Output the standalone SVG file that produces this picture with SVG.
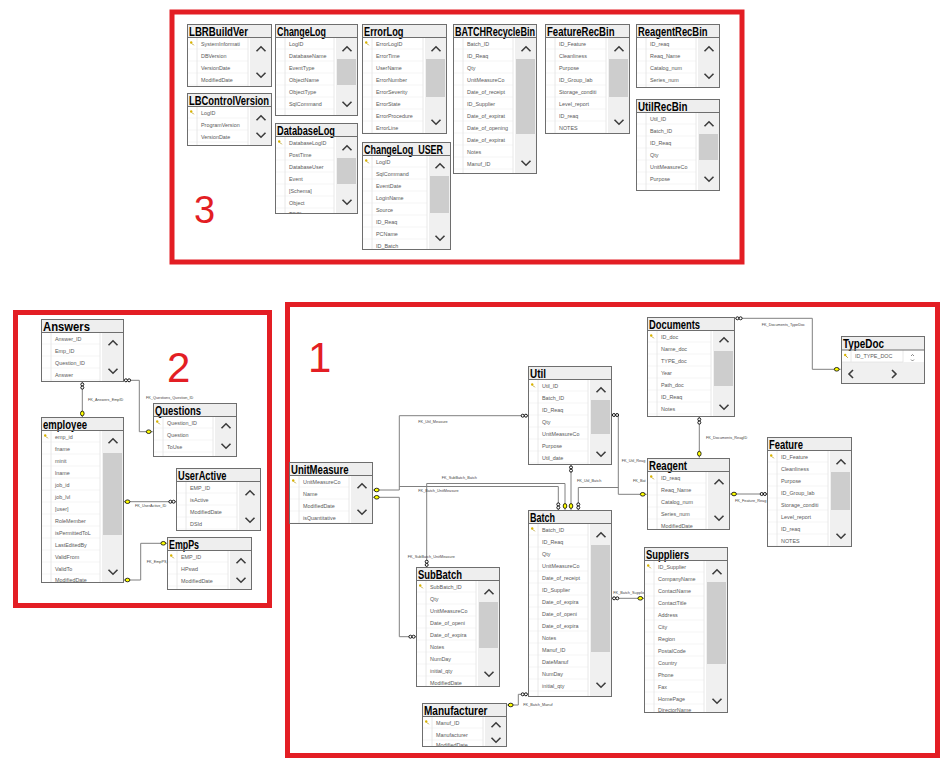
<svg xmlns="http://www.w3.org/2000/svg" width="947" height="759" viewBox="0 0 947 759">
<style>
.fr{fill:none;stroke:#e31e24;stroke-width:5}
.num{font-family:"Liberation Sans",Arial,sans-serif;fill:#e31e24}
.bg{fill:#fff}
.hd{fill:#eeeeee}
.bd{fill:none;stroke:#6e6e6e;stroke-width:1}
.tt{font-family:"Liberation Sans",Arial,sans-serif;font-weight:bold;font-size:12px;fill:#000}
.rt{font-family:"Liberation Sans",Arial,sans-serif;font-size:5.4px;fill:#5a5a5a}
.gl{fill:none;stroke:#e2e2e2;stroke-width:0.8}
.sb{fill:#f0f0f0}
.th{fill:#cdcdcd}
.ar{fill:none;stroke:#3c3c3c;stroke-width:1.6}
.cn{fill:none;stroke:#808080;stroke-width:1}
.lb{font-family:"Liberation Sans",Arial,sans-serif;font-size:3.8px;fill:#444}
.inf{fill:#fff;stroke:#000;stroke-width:0.9}
.key{fill:#ffff00;stroke:#000;stroke-width:0.8}
</style>
<defs>
<pattern id="rg" patternUnits="userSpaceOnUse" x="0" y="13.5" width="300" height="12"><rect y="11.6" width="300" height="0.8" fill="#e2e2e2"/></pattern>
<g id="cu"><path class="ar" d="M-4.5,2.2L0,-2.2L4.5,2.2"/></g>
<g id="cd"><path class="ar" d="M-4.5,-2.2L0,2.2L4.5,-2.2"/></g>
<g id="rk"><circle cx="-0.8" cy="-1" r="1.2" fill="#d9b300"/><path d="M0,0L1.8,1.8" stroke="#a88a00" stroke-width="0.8"/></g>
<g id="ih"><circle class="inf" cx="-1.6" r="1.5"/><circle class="inf" cx="1.6" r="1.5"/></g>
<g id="iv"><circle class="inf" cy="-1.6" r="1.5"/><circle class="inf" cy="1.6" r="1.5"/></g>
<g id="kh"><ellipse class="key" rx="2.4" ry="1.8"/></g>
<g id="kv"><ellipse class="key" rx="1.8" ry="2.4"/></g>
</defs>
<rect width="947" height="759" fill="#fff"/>

<g id="frames">
<rect class="fr" x="172" y="12" width="570" height="250"/>
<rect class="fr" x="15.5" y="312.5" width="254" height="293"/>
<rect class="fr" x="287.5" y="304.5" width="650" height="451"/>
<text class="num" x="194" y="223" font-size="38">3</text>
<text class="num" x="167" y="382" font-size="42">2</text>
<text class="num" x="308" y="372" font-size="42">1</text>
</g>

<g id="connectors">
<path class="cn" d="M82.3,382V417"/>
<path class="cn" d="M123.5,380.3H139.3V431.7H152.7"/>
<path class="cn" d="M123.5,501.7H176"/>
<path class="cn" d="M123.5,580H140.7V543.3H167.3"/>
<path class="cn" d="M735,318.3H812.3V369.3H840.7"/>
<path class="cn" d="M699.3,416.7V457.7"/>
<path class="cn" d="M730,494H767.3"/>
<path class="cn" d="M611.7,415H618.3V494.3H646.7"/>
<path class="cn" d="M578.3,510V487.5H618.3"/>
<path class="cn" d="M571,465V510"/>
<path class="cn" d="M528.3,415.7H399.3V490H372.7"/>
<path class="cn" d="M558.3,510V486.5H399.3"/>
<path class="cn" d="M426.7,567.3V483.5H565V510"/>
<path class="cn" d="M372.7,497.3H399.3V636.7H416"/>
<path class="cn" d="M611.7,598.3H644.3"/>
<path class="cn" d="M528.3,694.3H518.3V705H506.7"/>
<use href="#iv" x="82.3" y="386"/><use href="#kv" x="82.3" y="413.5"/>
<use href="#ih" x="127.5" y="380.3"/><use href="#kh" x="148.7" y="431.7"/>
<use href="#kh" x="127.5" y="501.7"/><use href="#ih" x="172" y="501.7"/>
<use href="#kh" x="127.5" y="580"/><use href="#kh" x="163.3" y="543.3"/>
<use href="#ih" x="739" y="318.3"/><use href="#kh" x="836.7" y="369.3"/>
<use href="#iv" x="699.3" y="421"/><use href="#kv" x="699.3" y="453.7"/>
<use href="#kh" x="734" y="494"/><use href="#ih" x="763.3" y="494"/>
<use href="#ih" x="615.5" y="415"/><use href="#kh" x="642.7" y="494.3"/>
<use href="#iv" x="578.3" y="506"/>
<use href="#iv" x="571" y="469"/><use href="#kv" x="571" y="506"/>
<use href="#ih" x="524.3" y="415.7"/><use href="#kh" x="376.7" y="490"/>
<use href="#iv" x="558.3" y="506"/>
<use href="#iv" x="426.7" y="563.3"/><use href="#kv" x="565" y="506"/>
<use href="#kh" x="376.7" y="497.3"/><use href="#ih" x="412" y="636.7"/>
<use href="#ih" x="615.7" y="598.3"/><use href="#kh" x="640.3" y="598.3"/>
<use href="#ih" x="524.3" y="694.3"/><use href="#kh" x="510.7" y="705"/>
<text class="lb" x="88" y="401">FK_Answers_EmpID</text>
<text class="lb" x="146" y="399">FK_Questions_Question_ID</text>
<text class="lb" x="135" y="507">FK_UserActive_ID</text>
<text class="lb" x="146.7" y="563">FK_EmpPS_I</text>
<text class="lb" x="761.7" y="325.5">FK_Documents_TypeDoc</text>
<text class="lb" x="706" y="438.5">FK_Documents_ReagID</text>
<text class="lb" x="735" y="501.5">FK_Feature_Reag</text>
<text class="lb" x="621.7" y="462">FK_Util_Reag</text>
<text class="lb" x="633" y="481.5">FK_Bat</text>
<text class="lb" x="577" y="482">FK_Util_Batch</text>
<text class="lb" x="418.3" y="422.5">FK_Util_Measure</text>
<text class="lb" x="418.3" y="492">FK_Batch_UnitMeasure</text>
<text class="lb" x="441.7" y="479">FK_SubBatch_Batch</text>
<text class="lb" x="407.7" y="558">FK_SubBatch_UnitMeasure</text>
<text class="lb" x="613.3" y="594">FK_Batch_Supplier</text>
<text class="lb" x="523.3" y="706">FK_Batch_Manuf</text>
</g>

<g id="LBRBuildVer"><svg x="187" y="24" width="85" height="63">
<rect class="bg" width="85" height="63"/><rect class="hd" width="85" height="13.5"/>
<rect fill="url(#rg)" x="1" y="13.5" width="60" height="49.5"/><path class="gl" d="M10,13.5V63M61,13.5V63"/>
<rect class="sb" x="63" y="13.5" width="22" height="49.5"/>
<use href="#cu" x="74" y="25"/><use href="#cd" x="74" y="51"/><use href="#rk" x="5" y="19.5"/>
<text class="tt" x="2" y="11.8" textLength="59" lengthAdjust="spacingAndGlyphs">LBRBuildVer</text>
<text class="rt"><tspan x="14" y="21.5">SystemInformati</tspan><tspan x="14" dy="12">DBVersion</tspan><tspan x="14" dy="12">VersionDate</tspan><tspan x="14" dy="12">ModifiedDate</tspan></text>
<rect class="bd" x="0.5" y="0.5" width="84" height="62"/><path class="bd" d="M0,13.5H85"/>
</svg></g>

<g id="LBControlVersion"><svg x="187" y="93" width="85" height="53">
<rect class="bg" width="85" height="53"/><rect class="hd" width="85" height="13.5"/>
<rect fill="url(#rg)" x="1" y="13.5" width="60" height="39.5"/><path class="gl" d="M10,13.5V53M61,13.5V53"/>
<rect class="sb" x="63" y="13.5" width="22" height="39.5"/>
<use href="#cu" x="74" y="25"/><use href="#cd" x="74" y="42"/><use href="#rk" x="5" y="19.5"/>
<text class="tt" x="2" y="11.8" textLength="80" lengthAdjust="spacingAndGlyphs">LBControlVersion</text>
<text class="rt"><tspan x="14" y="21.5">LogID</tspan><tspan x="14" dy="12">ProgramVersion</tspan><tspan x="14" dy="12">VersionDate</tspan></text>
<rect class="bd" x="0.5" y="0.5" width="84" height="52"/><path class="bd" d="M0,13.5H85"/>
</svg></g>

<g id="ChangeLog"><svg x="275" y="24" width="83" height="92">
<rect class="bg" width="83" height="92"/><rect class="hd" width="83" height="13.5"/>
<rect fill="url(#rg)" x="1" y="13.5" width="58" height="78.5"/><path class="gl" d="M10,13.5V92M59,13.5V92"/>
<rect class="sb" x="61" y="13.5" width="22" height="78.5"/><rect class="th" x="62" y="35" width="19" height="26"/>
<use href="#cu" x="72" y="25"/><use href="#cd" x="72" y="80"/>
<text class="tt" x="2" y="11.8" textLength="49" lengthAdjust="spacingAndGlyphs">ChangeLog</text>
<text class="rt"><tspan x="14" y="21.5">LogID</tspan><tspan x="14" dy="12">DatabaseName</tspan><tspan x="14" dy="12">EventType</tspan><tspan x="14" dy="12">ObjectName</tspan><tspan x="14" dy="12">ObjectType</tspan><tspan x="14" dy="12">SqlCommand</tspan></text>
<rect class="bd" x="0.5" y="0.5" width="82" height="91"/><path class="bd" d="M0,13.5H83"/>
</svg></g>

<g id="DatabaseLog"><svg x="275" y="123" width="83" height="91">
<rect class="bg" width="83" height="91"/><rect class="hd" width="83" height="13.5"/>
<rect fill="url(#rg)" x="1" y="13.5" width="58" height="77.5"/><path class="gl" d="M10,13.5V91M59,13.5V91"/>
<rect class="sb" x="61" y="13.5" width="22" height="77.5"/><rect class="th" x="62" y="35" width="19" height="26"/>
<use href="#cu" x="72" y="25"/><use href="#cd" x="72" y="79"/><use href="#rk" x="5" y="19.5"/>
<text class="tt" x="2" y="11.8" textLength="58" lengthAdjust="spacingAndGlyphs">DatabaseLog</text>
<text class="rt"><tspan x="14" y="21.5">DatabaseLogID</tspan><tspan x="14" dy="12">PostTime</tspan><tspan x="14" dy="12">DatabaseUser</tspan><tspan x="14" dy="12">Event</tspan><tspan x="14" dy="12">[Schema]</tspan><tspan x="14" dy="12">Object</tspan><tspan x="14" dy="11">TSQL</tspan></text>
<rect class="bd" x="0.5" y="0.5" width="82" height="90"/><path class="bd" d="M0,13.5H83"/>
</svg></g>

<g id="ErrorLog"><svg x="362" y="24" width="85" height="110">
<rect class="bg" width="85" height="110"/><rect class="hd" width="85" height="13.5"/>
<rect fill="url(#rg)" x="1" y="13.5" width="60" height="96.5"/><path class="gl" d="M10,13.5V110M61,13.5V110"/>
<rect class="sb" x="63" y="13.5" width="22" height="96.5"/><rect class="th" x="64" y="35" width="19" height="38"/>
<use href="#cu" x="74" y="25"/><use href="#cd" x="74" y="98"/><use href="#rk" x="5" y="19.5"/>
<text class="tt" x="2" y="11.8" textLength="39.5" lengthAdjust="spacingAndGlyphs">ErrorLog</text>
<text class="rt"><tspan x="14" y="21.5">ErrorLogID</tspan><tspan x="14" dy="12">ErrorTime</tspan><tspan x="14" dy="12">UserName</tspan><tspan x="14" dy="12">ErrorNumber</tspan><tspan x="14" dy="12">ErrorSeverity</tspan><tspan x="14" dy="12">ErrorState</tspan><tspan x="14" dy="12">ErrorProcedure</tspan><tspan x="14" dy="12">ErrorLine</tspan></text>
<rect class="bd" x="0.5" y="0.5" width="84" height="109"/><path class="bd" d="M0,13.5H85"/>
</svg></g>

<g id="ChangeLog_USER"><svg x="362" y="142" width="89" height="108">
<rect class="bg" width="89" height="108"/><rect class="hd" width="89" height="13.5"/>
<rect fill="url(#rg)" x="1" y="13.5" width="64" height="94.5"/><path class="gl" d="M10,13.5V108M65,13.5V108"/>
<rect class="sb" x="67" y="13.5" width="22" height="94.5"/><rect class="th" x="68" y="34" width="19" height="37"/>
<use href="#cu" x="78" y="24"/><use href="#cd" x="78" y="96"/><use href="#rk" x="5" y="19.5"/>
<text class="tt" x="2" y="11.8" textLength="84" lengthAdjust="spacingAndGlyphs">ChangeLog_USER_</text>
<text class="rt"><tspan x="14" y="21.5">LogID</tspan><tspan x="14" dy="12">SqlCommand</tspan><tspan x="14" dy="12">EventDate</tspan><tspan x="14" dy="12">LoginName</tspan><tspan x="14" dy="12">Source</tspan><tspan x="14" dy="12">ID_Reaq</tspan><tspan x="14" dy="12">PCName</tspan><tspan x="14" dy="12">ID_Batch</tspan></text>
<rect class="bd" x="0.5" y="0.5" width="88" height="107"/><path class="bd" d="M0,13.5H89"/>
</svg></g>

<g id="BATCHRecycleBin"><svg x="453" y="24" width="84" height="150">
<rect class="bg" width="84" height="150"/><rect class="hd" width="84" height="13.5"/>
<rect fill="url(#rg)" x="1" y="13.5" width="59" height="136.5"/><path class="gl" d="M10,13.5V150M60,13.5V150"/>
<rect class="sb" x="62" y="13.5" width="22" height="136.5"/><rect class="th" x="63" y="35" width="19" height="75"/>
<use href="#cu" x="73" y="25"/><use href="#cd" x="73" y="139"/>
<text class="tt" x="2" y="11.8" textLength="80" lengthAdjust="spacingAndGlyphs">BATCHRecycleBin</text>
<text class="rt"><tspan x="14" y="21.5">Batch_ID</tspan><tspan x="14" dy="12">ID_Reaq</tspan><tspan x="14" dy="12">Qty</tspan><tspan x="14" dy="12">UnitMeasureCo</tspan><tspan x="14" dy="12">Date_of_receipt</tspan><tspan x="14" dy="12">ID_Supplier</tspan><tspan x="14" dy="12">Date_of_expirat</tspan><tspan x="14" dy="12">Date_of_opening</tspan><tspan x="14" dy="12">Date_of_expirat</tspan><tspan x="14" dy="12">Notes</tspan><tspan x="14" dy="12">Manuf_ID</tspan></text>
<rect class="bd" x="0.5" y="0.5" width="83" height="149"/><path class="bd" d="M0,13.5H84"/>
</svg></g>

<g id="FeatureRecBin"><svg x="545" y="24" width="85" height="110">
<rect class="bg" width="85" height="110"/><rect class="hd" width="85" height="13.5"/>
<rect fill="url(#rg)" x="1" y="13.5" width="60" height="96.5"/><path class="gl" d="M10,13.5V110M61,13.5V110"/>
<rect class="sb" x="63" y="13.5" width="22" height="96.5"/><rect class="th" x="64" y="35" width="19" height="38"/>
<use href="#cu" x="74" y="25"/><use href="#cd" x="74" y="98"/>
<text class="tt" x="2" y="11.8" textLength="67.5" lengthAdjust="spacingAndGlyphs">FeatureRecBin</text>
<text class="rt"><tspan x="14" y="21.5">ID_Feature</tspan><tspan x="14" dy="12">Cleanliness</tspan><tspan x="14" dy="12">Purpose</tspan><tspan x="14" dy="12">ID_Group_lab</tspan><tspan x="14" dy="12">Storage_conditi</tspan><tspan x="14" dy="12">Level_report</tspan><tspan x="14" dy="12">ID_reaq</tspan><tspan x="14" dy="12">NOTES</tspan></text>
<rect class="bd" x="0.5" y="0.5" width="84" height="109"/><path class="bd" d="M0,13.5H85"/>
</svg></g>

<g id="ReagentRecBin"><svg x="636" y="24" width="84" height="64">
<rect class="bg" width="84" height="64"/><rect class="hd" width="84" height="13.5"/>
<rect fill="url(#rg)" x="1" y="13.5" width="59" height="50.5"/><path class="gl" d="M10,13.5V64M60,13.5V64"/>
<rect class="sb" x="62" y="13.5" width="22" height="50.5"/>
<use href="#cu" x="73" y="25"/><use href="#cd" x="73" y="52"/>
<text class="tt" x="2" y="11.8" textLength="69.5" lengthAdjust="spacingAndGlyphs">ReagentRecBin</text>
<text class="rt"><tspan x="14" y="21.5">ID_reaq</tspan><tspan x="14" dy="12">Reaq_Name</tspan><tspan x="14" dy="12">Catalog_num</tspan><tspan x="14" dy="12">Series_num</tspan></text>
<rect class="bd" x="0.5" y="0.5" width="83" height="63"/><path class="bd" d="M0,13.5H84"/>
</svg></g>

<g id="UtilRecBin"><svg x="636" y="99" width="84" height="92">
<rect class="bg" width="84" height="92"/><rect class="hd" width="84" height="13.5"/>
<rect fill="url(#rg)" x="1" y="13.5" width="59" height="78.5"/><path class="gl" d="M10,13.5V92M60,13.5V92"/>
<rect class="sb" x="62" y="13.5" width="22" height="78.5"/><rect class="th" x="63" y="35" width="19" height="26"/>
<use href="#cu" x="73" y="25"/><use href="#cd" x="73" y="80"/>
<text class="tt" x="2" y="11.8" textLength="49.5" lengthAdjust="spacingAndGlyphs">UtilRecBin</text>
<text class="rt"><tspan x="14" y="21.5">Util_ID</tspan><tspan x="14" dy="12">Batch_ID</tspan><tspan x="14" dy="12">ID_Reaq</tspan><tspan x="14" dy="12">Qty</tspan><tspan x="14" dy="12">UnitMeasureCo</tspan><tspan x="14" dy="12">Purpose</tspan></text>
<rect class="bd" x="0.5" y="0.5" width="83" height="91"/><path class="bd" d="M0,13.5H84"/>
</svg></g>

<g id="Answers"><svg x="41" y="319" width="83" height="63">
<rect class="bg" width="83" height="63"/><rect class="hd" width="83" height="13.5"/>
<rect fill="url(#rg)" x="1" y="13.5" width="58" height="49.5"/><path class="gl" d="M10,13.5V63M59,13.5V63"/>
<rect class="sb" x="61" y="13.5" width="22" height="49.5"/>
<use href="#cu" x="72" y="24"/><use href="#cd" x="72" y="52"/>
<text class="tt" x="2" y="11.8" textLength="47" lengthAdjust="spacingAndGlyphs">Answers</text>
<text class="rt"><tspan x="14" y="21.5">Answer_ID</tspan><tspan x="14" dy="12">Emp_ID</tspan><tspan x="14" dy="12">Question_ID</tspan><tspan x="14" dy="12">Answer</tspan></text>
<rect class="bd" x="0.5" y="0.5" width="82" height="62"/><path class="bd" d="M0,13.5H83"/>
</svg></g>

<g id="employee"><svg x="41" y="417" width="83" height="166">
<rect class="bg" width="83" height="166"/><rect class="hd" width="83" height="13.5"/>
<rect fill="url(#rg)" x="1" y="13.5" width="58" height="152.5"/><path class="gl" d="M10,13.5V166M59,13.5V166"/>
<rect class="sb" x="61" y="13.5" width="22" height="152.5"/><rect class="th" x="62" y="36" width="19" height="82"/>
<use href="#cu" x="72" y="24"/><use href="#cd" x="72" y="155"/><use href="#rk" x="5" y="19.5"/>
<text class="tt" x="2" y="11.8" textLength="44" lengthAdjust="spacingAndGlyphs">employee</text>
<text class="rt"><tspan x="14" y="21.5">emp_id</tspan><tspan x="14" dy="12">fname</tspan><tspan x="14" dy="12">minit</tspan><tspan x="14" dy="12">lname</tspan><tspan x="14" dy="12">job_id</tspan><tspan x="14" dy="12">job_lvl</tspan><tspan x="14" dy="12">[user]</tspan><tspan x="14" dy="12">RoleMember</tspan><tspan x="14" dy="12">isPermittedToL</tspan><tspan x="14" dy="12">LastEditedBy</tspan><tspan x="14" dy="12">ValidFrom</tspan><tspan x="14" dy="12">ValidTo</tspan><tspan x="14" dy="11">ModifiedDate</tspan></text>
<rect class="bd" x="0.5" y="0.5" width="82" height="165"/><path class="bd" d="M0,13.5H83"/>
</svg></g>

<g id="Questions"><svg x="153" y="403" width="84" height="54">
<rect class="bg" width="84" height="54"/><rect class="hd" width="84" height="13.5"/>
<rect fill="url(#rg)" x="1" y="13.5" width="59" height="40.5"/><path class="gl" d="M10,13.5V54M60,13.5V54"/>
<rect class="sb" x="62" y="13.5" width="22" height="40.5"/>
<use href="#cu" x="73" y="23"/><use href="#cd" x="73" y="43"/><use href="#rk" x="5" y="19.5"/>
<text class="tt" x="2" y="11.8" textLength="46" lengthAdjust="spacingAndGlyphs">Questions</text>
<text class="rt"><tspan x="14" y="21.5">Question_ID</tspan><tspan x="14" dy="12">Question</tspan><tspan x="14" dy="12">ToUse</tspan></text>
<rect class="bd" x="0.5" y="0.5" width="83" height="53"/><path class="bd" d="M0,13.5H84"/>
</svg></g>

<g id="UserActive"><svg x="176" y="468" width="85" height="63">
<rect class="bg" width="85" height="63"/><rect class="hd" width="85" height="13.5"/>
<rect fill="url(#rg)" x="1" y="13.5" width="60" height="49.5"/><path class="gl" d="M10,13.5V63M61,13.5V63"/>
<rect class="sb" x="63" y="13.5" width="22" height="49.5"/>
<use href="#cu" x="74" y="25"/><use href="#cd" x="74" y="52"/>
<text class="tt" x="2" y="11.8" textLength="48.5" lengthAdjust="spacingAndGlyphs">UserActive</text>
<text class="rt"><tspan x="14" y="21.5">EMP_ID</tspan><tspan x="14" dy="12">isActive</tspan><tspan x="14" dy="12">ModifiedDate</tspan><tspan x="14" dy="12">DSId</tspan></text>
<rect class="bd" x="0.5" y="0.5" width="84" height="62"/><path class="bd" d="M0,13.5H85"/>
</svg></g>

<g id="EmpPs"><svg x="167" y="537" width="85" height="53">
<rect class="bg" width="85" height="53"/><rect class="hd" width="85" height="13.5"/>
<rect fill="url(#rg)" x="1" y="13.5" width="60" height="39.5"/><path class="gl" d="M10,13.5V53M61,13.5V53"/>
<rect class="sb" x="63" y="13.5" width="22" height="39.5"/>
<use href="#cu" x="74" y="24"/><use href="#cd" x="74" y="43"/><use href="#rk" x="5" y="19.5"/>
<text class="tt" x="2" y="11.8" textLength="30" lengthAdjust="spacingAndGlyphs">EmpPs</text>
<text class="rt"><tspan x="14" y="21.5">EMP_ID</tspan><tspan x="14" dy="12">HPswd</tspan><tspan x="14" dy="12">ModifiedDate</tspan></text>
<rect class="bd" x="0.5" y="0.5" width="84" height="52"/><path class="bd" d="M0,13.5H85"/>
</svg></g>

<g id="UnitMeasure"><svg x="289" y="462" width="84" height="62">
<rect class="bg" width="84" height="62"/><rect class="hd" width="84" height="13.5"/>
<rect fill="url(#rg)" x="1" y="13.5" width="59" height="48.5"/><path class="gl" d="M10,13.5V62M60,13.5V62"/>
<rect class="sb" x="62" y="13.5" width="22" height="48.5"/>
<use href="#cu" x="73" y="24"/><use href="#cd" x="73" y="50"/><use href="#rk" x="5" y="19.5"/>
<text class="tt" x="2" y="11.8" textLength="57.5" lengthAdjust="spacingAndGlyphs">UnitMeasure</text>
<text class="rt"><tspan x="14" y="21.5">UnitMeasureCo</tspan><tspan x="14" dy="12">Name</tspan><tspan x="14" dy="12">ModifiedDate</tspan><tspan x="14" dy="12">isQuantitative</tspan></text>
<rect class="bd" x="0.5" y="0.5" width="83" height="61"/><path class="bd" d="M0,13.5H84"/>
</svg></g>

<g id="Util"><svg x="528" y="366" width="84" height="99">
<rect class="bg" width="84" height="99"/><rect class="hd" width="84" height="13.5"/>
<rect fill="url(#rg)" x="1" y="13.5" width="59" height="85.5"/><path class="gl" d="M10,13.5V99M60,13.5V99"/>
<rect class="sb" x="62" y="13.5" width="22" height="85.5"/><rect class="th" x="63" y="34" width="19" height="34"/>
<use href="#cu" x="73" y="24"/><use href="#cd" x="73" y="88"/><use href="#rk" x="5" y="19.5"/>
<text class="tt" x="2" y="11.8" textLength="16" lengthAdjust="spacingAndGlyphs">Util</text>
<text class="rt"><tspan x="14" y="21.5">Util_ID</tspan><tspan x="14" dy="12">Batch_ID</tspan><tspan x="14" dy="12">ID_Reaq</tspan><tspan x="14" dy="12">Qty</tspan><tspan x="14" dy="12">UnitMeasureCo</tspan><tspan x="14" dy="12">Purpose</tspan><tspan x="14" dy="12">Util_date</tspan></text>
<rect class="bd" x="0.5" y="0.5" width="83" height="98"/><path class="bd" d="M0,13.5H84"/>
</svg></g>

<g id="Batch"><svg x="528" y="510" width="84" height="187">
<rect class="bg" width="84" height="187"/><rect class="hd" width="84" height="13.5"/>
<rect fill="url(#rg)" x="1" y="13.5" width="59" height="173.5"/><path class="gl" d="M10,13.5V187M60,13.5V187"/>
<rect class="sb" x="62" y="13.5" width="22" height="173.5"/><rect class="th" x="63" y="35" width="19" height="107"/>
<use href="#cu" x="73" y="25"/><use href="#cd" x="73" y="175"/><use href="#rk" x="5" y="19.5"/>
<text class="tt" x="2" y="11.8" textLength="25" lengthAdjust="spacingAndGlyphs">Batch</text>
<text class="rt"><tspan x="14" y="21.5">Batch_ID</tspan><tspan x="14" dy="12">ID_Reaq</tspan><tspan x="14" dy="12">Qty</tspan><tspan x="14" dy="12">UnitMeasureCo</tspan><tspan x="14" dy="12">Date_of_receipt</tspan><tspan x="14" dy="12">ID_Supplier</tspan><tspan x="14" dy="12">Date_of_expira</tspan><tspan x="14" dy="12">Date_of_openi</tspan><tspan x="14" dy="12">Date_of_expira</tspan><tspan x="14" dy="12">Notes</tspan><tspan x="14" dy="12">Manuf_ID</tspan><tspan x="14" dy="12">DateManuf</tspan><tspan x="14" dy="12">NumDay</tspan><tspan x="14" dy="12">initial_qty</tspan></text>
<rect class="bd" x="0.5" y="0.5" width="83" height="186"/><path class="bd" d="M0,13.5H84"/>
</svg></g>

<g id="SubBatch"><svg x="416" y="567" width="84" height="120">
<rect class="bg" width="84" height="120"/><rect class="hd" width="84" height="13.5"/>
<rect fill="url(#rg)" x="1" y="13.5" width="59" height="106.5"/><path class="gl" d="M10,13.5V120M60,13.5V120"/>
<rect class="sb" x="62" y="13.5" width="22" height="106.5"/><rect class="th" x="63" y="35" width="19" height="46"/>
<use href="#cu" x="73" y="25"/><use href="#cd" x="73" y="107"/><use href="#rk" x="5" y="19.5"/>
<text class="tt" x="2" y="11.8" textLength="44" lengthAdjust="spacingAndGlyphs">SubBatch</text>
<text class="rt"><tspan x="14" y="21.5">SubBatch_ID</tspan><tspan x="14" dy="12">Qty</tspan><tspan x="14" dy="12">UnitMeasureCo</tspan><tspan x="14" dy="12">Date_of_openi</tspan><tspan x="14" dy="12">Date_of_expira</tspan><tspan x="14" dy="12">Notes</tspan><tspan x="14" dy="12">NumDay</tspan><tspan x="14" dy="12">initial_qty</tspan><tspan x="14" dy="12">ModifiedDate</tspan></text>
<rect class="bd" x="0.5" y="0.5" width="83" height="119"/><path class="bd" d="M0,13.5H84"/>
</svg></g>

<g id="Manufacturer"><svg x="422" y="703" width="85" height="44">
<rect class="bg" width="85" height="44"/><rect class="hd" width="85" height="13.5"/>
<rect fill="url(#rg)" x="1" y="13.5" width="60" height="30.5"/><path class="gl" d="M10,13.5V44M61,13.5V44"/>
<rect class="sb" x="63" y="13.5" width="22" height="30.5"/>
<use href="#cu" x="74" y="22"/><use href="#cd" x="74" y="37"/><use href="#rk" x="5" y="19.5"/>
<text class="tt" x="2" y="11.8" textLength="63.5" lengthAdjust="spacingAndGlyphs">Manufacturer</text>
<text class="rt"><tspan x="14" y="21.5">Manuf_ID</tspan><tspan x="14" dy="12">Manufacturer</tspan><tspan x="14" dy="10">ModifiedDate</tspan></text>
<rect class="bd" x="0.5" y="0.5" width="84" height="43"/><path class="bd" d="M0,13.5H85"/>
</svg></g>

<g id="Suppliers"><svg x="644" y="547" width="84" height="166">
<rect class="bg" width="84" height="166"/><rect class="hd" width="84" height="13.5"/>
<rect fill="url(#rg)" x="1" y="13.5" width="59" height="152.5"/><path class="gl" d="M10,13.5V166M60,13.5V166"/>
<rect class="sb" x="62" y="13.5" width="22" height="152.5"/><rect class="th" x="63" y="35" width="19" height="82"/>
<use href="#cu" x="73" y="25"/><use href="#cd" x="73" y="154"/><use href="#rk" x="5" y="19.5"/>
<text class="tt" x="2" y="11.8" textLength="43" lengthAdjust="spacingAndGlyphs">Suppliers</text>
<text class="rt"><tspan x="14" y="21.5">ID_Supplier</tspan><tspan x="14" dy="12">CompanyName</tspan><tspan x="14" dy="12">ContactName</tspan><tspan x="14" dy="12">ContactTitle</tspan><tspan x="14" dy="12">Address</tspan><tspan x="14" dy="12">City</tspan><tspan x="14" dy="12">Region</tspan><tspan x="14" dy="12">PostalCode</tspan><tspan x="14" dy="12">Country</tspan><tspan x="14" dy="12">Phone</tspan><tspan x="14" dy="12">Fax</tspan><tspan x="14" dy="12">HomePage</tspan><tspan x="14" dy="11">DirectorName</tspan></text>
<rect class="bd" x="0.5" y="0.5" width="83" height="165"/><path class="bd" d="M0,13.5H84"/>
</svg></g>

<g id="Documents"><svg x="647" y="317" width="88" height="100">
<rect class="bg" width="88" height="100"/><rect class="hd" width="88" height="13.5"/>
<rect fill="url(#rg)" x="1" y="13.5" width="63" height="86.5"/><path class="gl" d="M10,13.5V100M64,13.5V100"/>
<rect class="sb" x="66" y="13.5" width="22" height="86.5"/><rect class="th" x="67" y="34" width="19" height="35"/>
<use href="#cu" x="77" y="23"/><use href="#cd" x="77" y="90"/><use href="#rk" x="5" y="19.5"/>
<text class="tt" x="2" y="11.8" textLength="51" lengthAdjust="spacingAndGlyphs">Documents</text>
<text class="rt"><tspan x="14" y="21.5">ID_doc</tspan><tspan x="14" dy="12">Name_doc</tspan><tspan x="14" dy="12">TYPE_doc</tspan><tspan x="14" dy="12">Year</tspan><tspan x="14" dy="12">Path_doc</tspan><tspan x="14" dy="12">ID_Reaq</tspan><tspan x="14" dy="12">Notes</tspan></text>
<rect class="bd" x="0.5" y="0.5" width="87" height="99"/><path class="bd" d="M0,13.5H88"/>
</svg></g>

<g id="TypeDoc"><svg x="841" y="336" width="84" height="48">
<rect class="bg" width="84" height="48"/><rect class="hd" width="84" height="14"/>
<rect class="sb" x="0" y="26" width="84" height="22"/>
<path class="gl" d="M10,14V26M62,14V26M1,26H62"/>
<use href="#rk" x="5" y="20"/>
<path fill="none" stroke="#555" stroke-width="0.7" d="M70,20L71.5,18.5L73,20M70,23.5L71.5,25L73,23.5"/>
<path class="ar" d="M12,34L8,38L12,42M51,34L55,38L51,42"/>
<text class="tt" x="2" y="12" textLength="41" lengthAdjust="spacingAndGlyphs">TypeDoc</text>
<text class="rt" x="14" y="22">ID_TYPE_DOC</text>
<rect class="bd" x="0.5" y="0.5" width="83" height="47"/><path class="bd" d="M0,14H84"/>
</svg></g>

<g id="Reagent"><svg x="647" y="458" width="83" height="72">
<rect class="bg" width="83" height="72"/><rect class="hd" width="83" height="13.5"/>
<rect fill="url(#rg)" x="1" y="13.5" width="58" height="58.5"/><path class="gl" d="M10,13.5V72M59,13.5V72"/>
<rect class="sb" x="61" y="13.5" width="22" height="58.5"/>
<use href="#cu" x="72" y="24"/><use href="#cd" x="72" y="60"/><use href="#rk" x="5" y="19.5"/>
<text class="tt" x="2" y="11.8" textLength="38" lengthAdjust="spacingAndGlyphs">Reagent</text>
<text class="rt"><tspan x="14" y="21.5">ID_reaq</tspan><tspan x="14" dy="12">Reaq_Name</tspan><tspan x="14" dy="12">Catalog_num</tspan><tspan x="14" dy="12">Series_num</tspan><tspan x="14" dy="12">ModifiedDate</tspan></text>
<rect class="bd" x="0.5" y="0.5" width="82" height="71"/><path class="bd" d="M0,13.5H83"/>
</svg></g>

<g id="Feature"><svg x="767" y="437" width="85" height="110">
<rect class="bg" width="85" height="110"/><rect class="hd" width="85" height="13.5"/>
<rect fill="url(#rg)" x="1" y="13.5" width="60" height="96.5"/><path class="gl" d="M10,13.5V110M61,13.5V110"/>
<rect class="sb" x="63" y="13.5" width="22" height="96.5"/><rect class="th" x="64" y="35" width="19" height="38"/>
<use href="#cu" x="74" y="25"/><use href="#cd" x="74" y="99"/><use href="#rk" x="5" y="19.5"/>
<text class="tt" x="2" y="11.8" textLength="34" lengthAdjust="spacingAndGlyphs">Feature</text>
<text class="rt"><tspan x="14" y="21.5">ID_Feature</tspan><tspan x="14" dy="12">Cleanliness</tspan><tspan x="14" dy="12">Purpose</tspan><tspan x="14" dy="12">ID_Group_lab</tspan><tspan x="14" dy="12">Storage_conditi</tspan><tspan x="14" dy="12">Level_report</tspan><tspan x="14" dy="12">ID_reaq</tspan><tspan x="14" dy="12">NOTES</tspan></text>
<rect class="bd" x="0.5" y="0.5" width="84" height="109"/><path class="bd" d="M0,13.5H85"/>
</svg></g>
</svg>
